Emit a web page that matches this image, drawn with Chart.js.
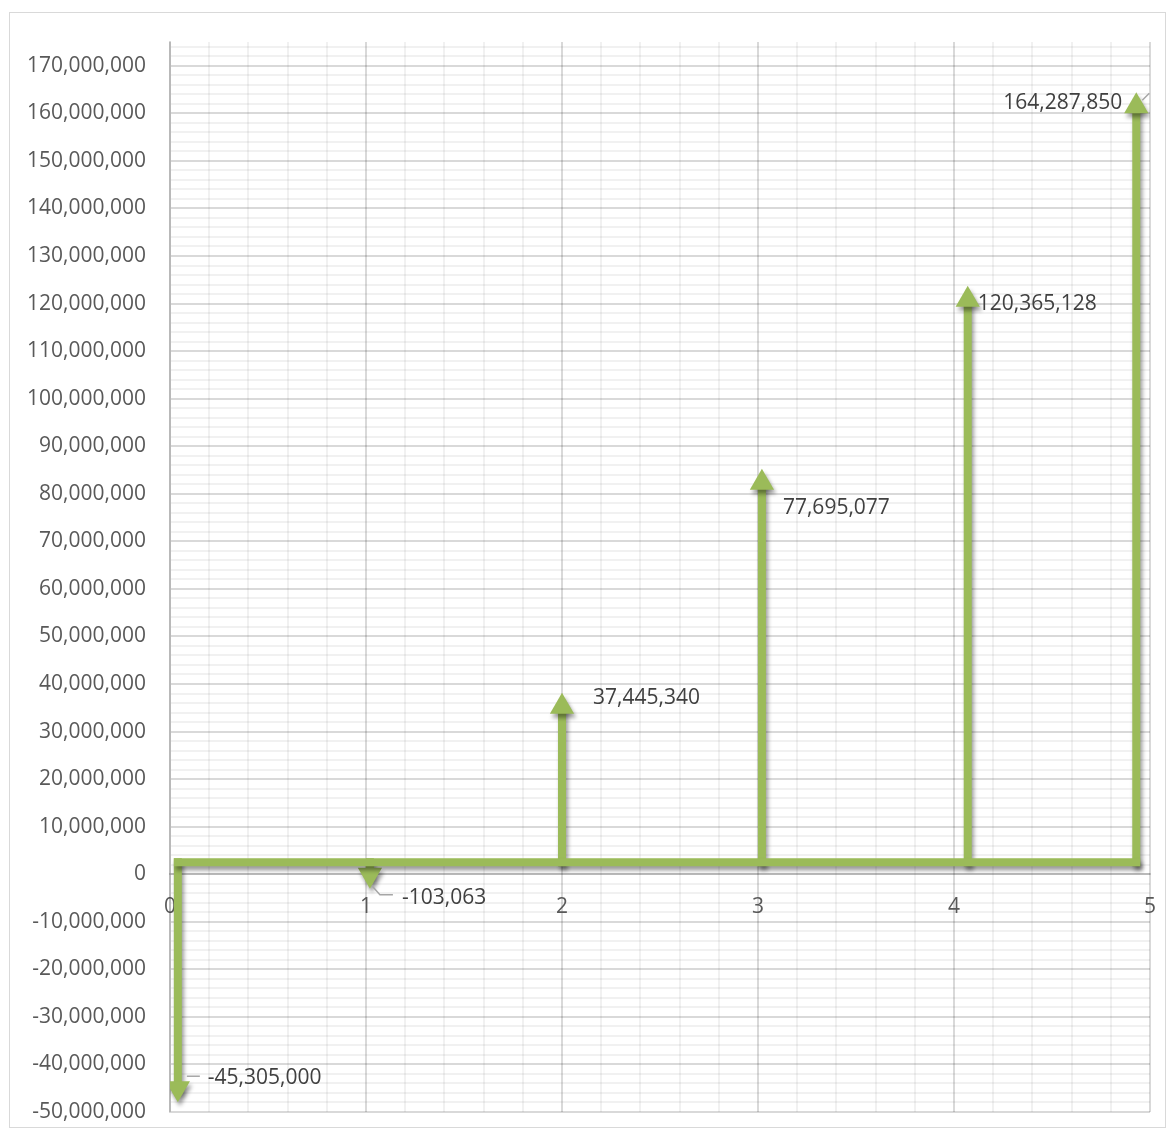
<!DOCTYPE html>
<html>
<head>
<meta charset="utf-8">
<script src="https://cdn.jsdelivr.net/npm/chart.js@4.4.1/dist/chart.umd.min.js"></script>
<style>
  html, body { margin: 0; padding: 0; background: #fff; }
  .chart-frame { position: absolute; left: 9px; top: 12px; width: 1157px; height: 1116px; border: 1px solid #d9d9d9; box-sizing: border-box; }
  .chart-frame canvas { display: block; }
</style>
</head>
<body>
<div class="chart-frame"><canvas id="cashflow" width="1155" height="1114"></canvas></div>
<script>
// period where each cash flow arrow stands
const arrowPeriods = [0.04, 1.02, 2.0, 3.02, 4.07, 4.93];
// net cash flow of each period, as printed next to the arrows
const cashFlows = [-45305000, -103063, 37445340, 77695077, 120365128, 164287850];
// where each arrow head sits on the value axis
const arrowHeads = [-45000000, -100000, 35200000, 82300000, 120800000, 161500000];
// the time line the arrows start from
const timeLineLevel = 2500000;
const timeLineStart = 0.04;
const timeLineEnd = 4.93;

// axes
const yMin = -50000000;
const yMax = 175000000;
const yStep = 2000000;
const yLabelStep = 10000000;
const xMin = 0;
const xMax = 5;
const xStep = 0.2;

const GREEN = '#9bbb59';
const FONT = '"Open Sans", "Noto Sans", sans-serif';
const MAJOR_GRID = 'rgba(0, 0, 0, 0.15)';
const MINOR_GRID = 'rgba(0, 0, 0, 0.055)';

const isMultiple = (v, step) => Math.abs(v / step - Math.round(v / step)) < 1e-6;

// build evenly stepped ticks, Chart.js would otherwise widen the step
const steppedTicks = (min, max, step) => {
    const out = [];
    const n = Math.floor((max - min) / step + 1e-9);
    for (let k = 0; k <= n; k++) out.push({ value: Math.round((min + k * step) * 1e6) / 1e6 });
    return out;
};

// label placement next to each arrow head (px), and optional leader lines
const labelLayout = [
    { dx: 30, dy: -10, align: 'left', leader: [[9, -12], [22, -12]] },
    { dx: 32, dy: 23, align: 'left', leader: [[2, 11], [10, 20], [23, 20]] },
    { dx: 31, dy: -9, align: 'left' },
    { dx: 21, dy: 25, align: 'left' },
    { dx: 10, dy: 4, align: 'left' },
    { dx: -14, dy: -3, align: 'right', leader: [[6, -6], [13, -13]] }
];

const datasets = [{
    label: 'timeline',
    data: [{ x: timeLineStart, y: timeLineLevel }, { x: timeLineEnd, y: timeLineLevel }],
    showLine: true,
    borderColor: GREEN,
    borderWidth: 8,
    borderCapStyle: 'square',
    pointRadius: 0
}];

arrowPeriods.forEach((p, i) => {
    const down = arrowHeads[i] < timeLineLevel;
    datasets.push({
        label: 'arrow' + i,
        data: [{ x: p, y: timeLineLevel }, { x: p, y: arrowHeads[i] }],
        showLine: true,
        borderColor: GREEN,
        backgroundColor: GREEN,
        borderWidth: 8,
        borderCapStyle: 'square',
        pointStyle: 'triangle',
        pointRadius: [0, 14],
        pointBorderWidth: 0,
        pointRotation: down ? 180 : 0
    });
});

// soft grey drop shadow under the green shapes
const shadowPlugin = {
    id: 'shadow',
    beforeDatasetsDraw(chart) {
        const ctx = chart.ctx;
        ctx.save();
        ctx.shadowColor = 'rgba(0, 0, 0, 0.4)';
        ctx.shadowBlur = 4;
        ctx.shadowOffsetX = 2;
        ctx.shadowOffsetY = 4;
    },
    afterDatasetsDraw(chart) {
        chart.ctx.restore();
    }
};

// value labels beside the arrow heads
const valueLabels = {
    id: 'valueLabels',
    afterDraw(chart) {
        const ctx = chart.ctx;
        ctx.save();
        ctx.font = '21px ' + FONT;
        ctx.textBaseline = 'middle';
        cashFlows.forEach((v, i) => {
            const pt = chart.getDatasetMeta(i + 1).data[1];
            const lay = labelLayout[i];
            if (lay.leader) {
                ctx.strokeStyle = '#a6a6a6';
                ctx.lineWidth = 1.5;
                ctx.beginPath();
                lay.leader.forEach(([lx, ly], k) => {
                    if (k === 0) ctx.moveTo(pt.x + lx, pt.y + ly);
                    else ctx.lineTo(pt.x + lx, pt.y + ly);
                });
                ctx.stroke();
            }
            ctx.fillStyle = '#404040';
            ctx.textAlign = lay.align;
            ctx.fillText(v.toLocaleString('en-US'), pt.x + lay.dx, pt.y + lay.dy);
        });
        ctx.restore();
    }
};

new Chart(document.getElementById('cashflow'), {
    type: 'scatter',
    data: { datasets },
    options: {
        responsive: false,
        animation: false,
        layout: { padding: { left: 0, top: 29, right: 15, bottom: 15 } },
        plugins: {
            legend: { display: false },
            tooltip: { enabled: false }
        },
        scales: {
            x: {
                type: 'linear',
                min: xMin,
                max: xMax,
                position: { y: 0 },
                afterBuildTicks: scale => { scale.ticks = steppedTicks(xMin, xMax, xStep); },
                afterFit: scale => { scale.paddingLeft = 0; scale.paddingRight = 0; },
                grid: {
                    drawTicks: false,
                    lineWidth: 2,
                    color: ctx => isMultiple(ctx.tick.value, 1) ? MAJOR_GRID : MINOR_GRID
                },
                border: { color: MAJOR_GRID, width: 2 },
                ticks: {
                    autoSkip: false,
                    maxRotation: 0,
                    padding: 20,
                    color: '#595959',
                    font: { family: FONT, size: 21 },
                    callback: v => isMultiple(v, 1) ? String(Math.round(v)) : ''
                }
            },
            y: {
                min: yMin,
                max: yMax,
                afterBuildTicks: scale => { scale.ticks = steppedTicks(yMin, yMax, yStep); },
                afterFit: scale => { scale.width = 160; scale.paddingTop = 0; scale.paddingBottom = 0; },
                grid: {
                    drawTicks: false,
                    lineWidth: 2,
                    color: ctx => isMultiple(ctx.tick.value, yLabelStep) ? MAJOR_GRID : MINOR_GRID
                },
                border: { color: MAJOR_GRID, width: 2 },
                ticks: {
                    autoSkip: false,
                    padding: 24,
                    color: '#595959',
                    font: { family: FONT, size: 21 },
                    callback: v => isMultiple(v, yLabelStep) ? Math.round(v).toLocaleString('en-US') : ''
                }
            }
        }
    },
    plugins: [shadowPlugin, valueLabels]
});
</script>
</body>
</html>
